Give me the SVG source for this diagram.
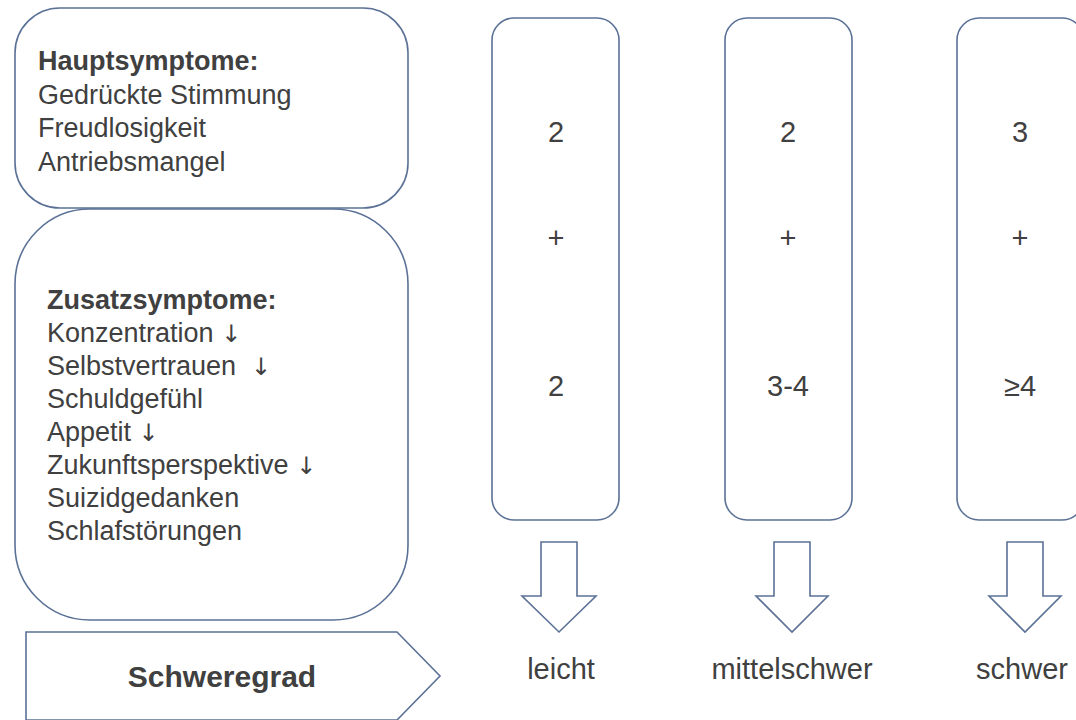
<svg xmlns="http://www.w3.org/2000/svg" width="1076" height="720" viewBox="0 0 1076 720">
<style>
.box{fill:#fff;stroke:#5b7196;stroke-width:1.6}
.t{font-family:"Liberation Sans",Arial,sans-serif;fill:#404040}
.l{font-size:27px}
.b{font-weight:bold}
.c{font-size:29px;text-anchor:middle}
.a{font-family:"DejaVu Sans",sans-serif;font-size:24px;fill:#404040}
</style>
<rect width="1076" height="720" fill="#fff"/>
<g id="haupt">
<rect class="box" x="15" y="8" width="393" height="200" rx="45"/>
<text class="t l" x="38" y="70"><tspan class="b">Hauptsymptome:</tspan><tspan x="38" dy="33.5">Gedrückte Stimmung</tspan><tspan x="38" dy="33.5">Freudlosigkeit</tspan><tspan x="38" dy="33.5">Antriebsmangel</tspan></text>
</g>
<g id="zusatz">
<rect class="box" x="15" y="209" width="393" height="411" rx="75"/>
<text class="t l" x="47" y="309"><tspan class="b">Zusatzsymptome:</tspan><tspan x="47" dy="33">Konzentration <tspan class="a">↓&#xFE0E;</tspan></tspan><tspan x="47" dy="33">Selbstvertrauen&#160;&#160;<tspan class="a">↓&#xFE0E;</tspan></tspan><tspan x="47" dy="33">Schuldgefühl</tspan><tspan x="47" dy="33">Appetit <tspan class="a">↓&#xFE0E;</tspan></tspan><tspan x="47" dy="33">Zukunftsperspektive <tspan class="a">↓&#xFE0E;</tspan></tspan><tspan x="47" dy="33">Suizidgedanken</tspan><tspan x="47" dy="33">Schlafstörungen</tspan></text>
</g>
<g id="schweregrad">
<path class="box" d="M26,632 H397 L440,676 L397,720 H26 Z"/>
<text class="t b" x="222" y="687" font-size="30" text-anchor="middle">Schweregrad</text>
</g>
<g id="leicht">
<rect class="box" x="492" y="18" width="127" height="502" rx="22"/>
<text class="t c" x="556" y="142">2</text>
<text class="t c" x="556" y="248">+</text>
<text class="t c" x="556" y="396">2</text>
<text class="t c" x="561" y="679">leicht</text>
</g>
<g id="mittelschwer">
<rect class="box" x="725" y="18" width="127" height="502" rx="22"/>
<text class="t c" x="788" y="142">2</text>
<text class="t c" x="788" y="248">+</text>
<text class="t c" x="788" y="396">3-4</text>
<text class="t c" x="792" y="679">mittelschwer</text>
</g>
<g id="schwer">
<rect class="box" x="957" y="18" width="127" height="502" rx="22"/>
<text class="t c" x="1020" y="142">3</text>
<text class="t c" x="1020" y="248">+</text>
<text class="t c" x="1020" y="396">≥4</text>
<text class="t c" x="1022" y="679">schwer</text>
</g>
<g id="connectors">
<path class="box" d="M541,542 H577 V596 H596 L559,632 L522,596 H541 Z"/>
<path class="box" d="M774,542 H810 V596 H828 L792,632 L756,596 H774 Z"/>
<path class="box" d="M1007,542 H1043 V596 H1061 L1025,632 L989,596 H1007 Z"/>
</g>
</svg>
